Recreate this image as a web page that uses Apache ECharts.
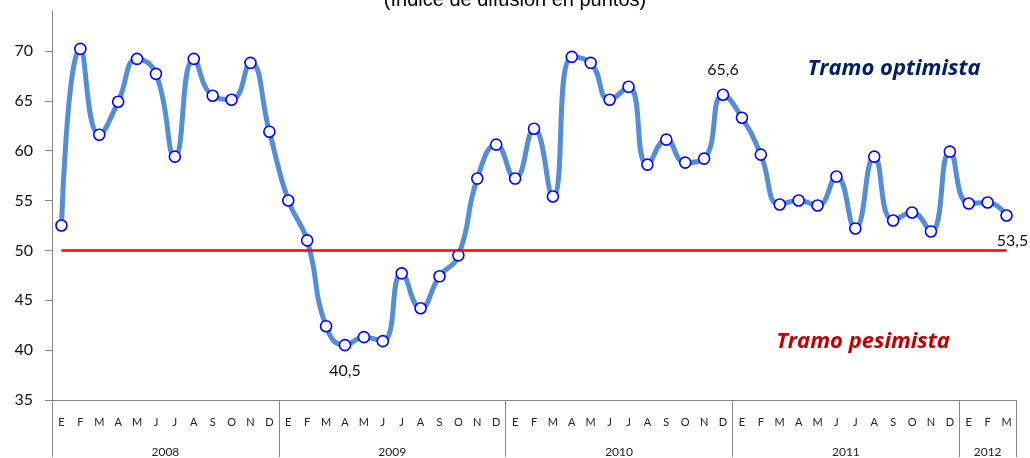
<!DOCTYPE html>
<html>
<head>
<meta charset="utf-8">
<script src="https://cdn.jsdelivr.net/npm/echarts@6/dist/echarts.min.js"></script>
<style>
html, body { margin: 0; padding: 0; background: #fff; }
#chart { width: 1030px; height: 458px; }
</style>
</head>
<body>
<div id="chart"></div>
<script>
// meses (E = enero ...) y años
var months = ['E','F','M','A','M','J','J','A','S','O','N','D',
    'E','F','M','A','M','J','J','A','S','O','N','D',
    'E','F','M','A','M','J','J','A','S','O','N','D',
    'E','F','M','A','M','J','J','A','S','O','N','D',
    'E','F','M'];
var years = ['2008', '2009', '2010', '2011', '2012'];
var yearMonths = [12, 12, 12, 12, 3];
// índice de difusión
var values = [
    52.5, 70.2, 61.6, 64.9, 69.2, 67.7, 59.4, 69.2, 65.5, 65.1, 68.8, 61.9,
    55.0, 51.0, 42.4, 40.5, 41.3, 40.9, 47.7, 44.2, 47.4, 49.5, 57.2, 60.6,
    57.2, 62.2, 55.4, 69.4, 68.8, 65.1, 66.4, 58.6, 61.1, 58.8, 59.2, 65.6,
    63.3, 59.6, 54.6, 55.0, 54.5, 57.4, 52.2, 59.4, 53.0, 53.8, 51.9, 59.9,
    54.7, 54.8, 53.5
];
var threshold = 50;
var yTicks = [35, 40, 45, 50, 55, 60, 65, 70];
// puntos con etiqueta
var labelled = [15, 35, 50];

// posiciones de separadores y etiquetas de año
var yearEdges = [0];
var yearCenters = [];
yearMonths.forEach(function (n) {
    var last = yearEdges[yearEdges.length - 1];
    yearCenters.push(last + n / 2);
    yearEdges.push(last + n);
});

var labelStyles = {
    15: {position: 'bottom', distance: 11},
    35: {position: 'top', distance: 11},
    50: {position: 'bottom', distance: 11, offset: [6, 0]}
};
var seriesData = values.map(function (v, i) {
    if (labelled.indexOf(i) < 0) {
        return v;
    }
    var st = labelStyles[i];
    return {
        value: v,
        label: {
            show: true,
            position: st.position,
            distance: st.distance,
            offset: st.offset || [0, 0],
            fontFamily: 'Lato',
            fontSize: 16,
            color: '#111',
            formatter: function (p) {
                return p.value.toFixed(1).replace('.', ',');
            }
        }
    };
});

var chart = echarts.init(document.getElementById('chart'));
chart.setOption({
    animation: false,
    grid: {left: 52, right: 14, top: 11, bottom: 57},
    graphic: [
        {
            type: 'text', left: 'center', top: -10,
            style: {text: '(Índice de difusión en puntos)', fontFamily: 'Liberation Sans', fontSize: 20, fill: '#000'}
        },
        {
            type: 'text', x: 894, y: 69,
            style: {text: 'Tramo optimista', fontFamily: 'Open Sans', fontStyle: 'italic', fontWeight: 'bold',
                fontSize: 22, fill: '#002060', textAlign: 'center', textVerticalAlign: 'middle'}
        },
        {
            type: 'text', x: 863, y: 342,
            style: {text: 'Tramo pesimista', fontFamily: 'Open Sans', fontStyle: 'italic', fontWeight: 'bold',
                fontSize: 22, fill: '#C00000', textAlign: 'center', textVerticalAlign: 'middle'}
        }
    ],
    xAxis: [
        {
            type: 'category',
            data: months,
            boundaryGap: true,
            position: 'bottom',
            axisLine: {lineStyle: {color: '#868686', width: 1}},
            axisTick: {show: false},
            axisLabel: {interval: 0, margin: 17, fontFamily: 'Lato', fontSize: 11, color: '#222'}
        },
        {
            type: 'value',
            min: 0,
            max: months.length,
            position: 'bottom',
            axisLine: {show: false},
            splitLine: {show: false},
            axisTick: {
                show: true,
                customValues: yearEdges,
                length: 57,
                lineStyle: {color: '#868686', width: 1}
            },
            axisLabel: {
                customValues: yearCenters,
                margin: 46,
                fontFamily: 'Lato',
                fontSize: 12,
                color: '#222',
                formatter: function (v) {
                    return years[yearCenters.indexOf(v)];
                }
            }
        }
    ],
    yAxis: {
        type: 'value',
        min: 35,
        max: 74,
        interval: 5,
        splitLine: {show: false},
        axisLine: {show: true, lineStyle: {color: '#868686', width: 1}},
        axisTick: {show: true, customValues: yTicks, length: 7, lineStyle: {color: '#868686'}},
        axisLabel: {customValues: yTicks, margin: 19, fontFamily: 'Lato', fontSize: 16, color: '#111'}
    },
    series: [
        {
            type: 'line',
            z: 1,
            data: [],
            markLine: {
                silent: true,
                symbol: 'none',
                label: {show: false},
                lineStyle: {color: '#FF0000', width: 2.5, type: 'solid'},
                data: [[{coord: [0, threshold]}, {coord: [values.length - 1, threshold]}]]
            }
        },
        {
            type: 'line',
            z: 3,
            data: seriesData,
            smooth: 0.5,
            symbol: 'circle',
            symbolSize: 11,
            lineStyle: {color: '#558ED5', width: 5},
            itemStyle: {color: '#fff', borderColor: '#0000FF', borderWidth: 1.6}
        }
    ]
});
</script>
</body>
</html>
